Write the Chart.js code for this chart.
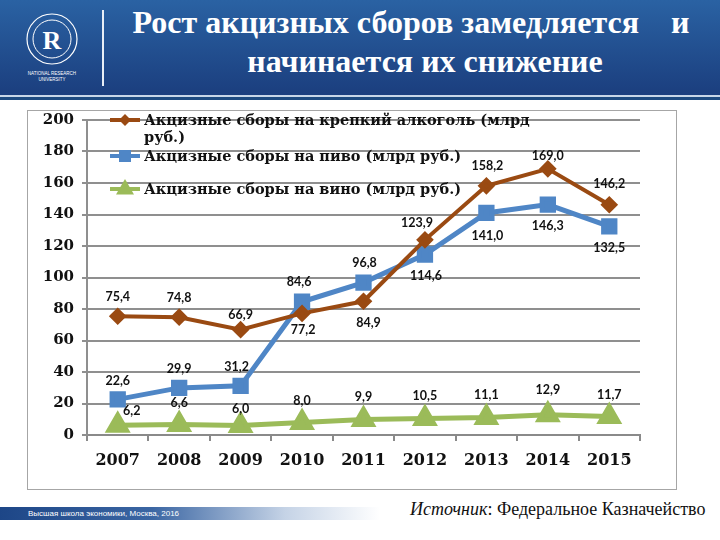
<!DOCTYPE html>
<html lang="ru">
<head>
  <meta charset="UTF-8" />
  <title>Рост акцизных сборов</title>
  <script src="https://cdn.jsdelivr.net/npm/chart.js"></script>
  <style>
    body {
      margin: 0;
      width: 720px;
      height: 540px;
      position: relative;
      overflow: hidden;
      background: #fff;
      font-family: 'Liberation Serif', serif;
    }
    .header {
      position: absolute;
      left: 0; top: 0;
      width: 720px; height: 95px;
      background: linear-gradient(#2a62a3, #1b3e7e);
    }
    .header .rule1 {
      position: absolute; left: 0; top: 95px; width: 720px; height: 2px; background: #c7d6e8;
    }
    .header .rule2 {
      position: absolute; left: 0; top: 97px; width: 720px; height: 3px; background: #1d4a80;
    }
    .divider {
      position: absolute; left: 102px; top: 10px; width: 2px; height: 76px; background: #e8eef6;
    }
    .title {
      position: absolute;
      width: 600px;
      text-align: center;
      color: #fff;
      font-weight: bold;
      font-size: 32px;
      line-height: 38px;
      white-space: pre;
    }
    .logo { position: absolute; left: 20px; top: 12px; }
    .box {
      position: absolute;
      left: 27px; top: 110px;
      width: 648px; height: 378px;
      border: 1px solid #a6a6a6;
      background: #fff;
    }
    .footbar {
      position: absolute;
      left: 0; top: 507px;
      width: 380px; height: 13px;
      background: linear-gradient(to right, #1d4687 0%, #3b66a3 40%, #c5d3e6 75%, rgba(255,255,255,0) 100%);
    }
    .foottext {
      position: absolute;
      left: 28px; top: 508px;
      color: #fff;
      font-family: 'Liberation Sans', sans-serif;
      font-size: 8px;
      line-height: 11px;
    }
    .source {
      position: absolute;
      left: 410px; top: 499px;
      font-size: 18px;
      color: #111;
    }
  </style>
</head>
<body>
  <div class="header">
    <div class="rule1"></div>
    <div class="rule2"></div>
  </div>
  <svg class="logo" width="64" height="72" viewBox="0 0 64 72">
    <circle cx="32" cy="27" r="25" fill="none" stroke="#fff" stroke-width="1.2"/>
    <circle cx="32" cy="27" r="19" fill="none" stroke="#fff" stroke-width="1"/>
    <text x="32" y="37" fill="#fff" font-family="Liberation Serif" font-size="26" font-weight="bold" text-anchor="middle">R</text>
    <text x="32" y="63" fill="#fff" font-family="Liberation Sans" font-size="4.5" text-anchor="middle">NATIONAL RESEARCH</text>
    <text x="32" y="69" fill="#fff" font-family="Liberation Sans" font-size="4.5" text-anchor="middle">UNIVERSITY</text>
  </svg>
  <div class="divider"></div>
  <div class="title" style="left:111px; top:3px;">Рост акцизных сборов замедляется    и</div>
  <div class="title" style="left:125px; top:42px;">начинается их снижение</div>

  <div class="box"><canvas id="myChart" width="648" height="378"></canvas></div>

  <div class="footbar"></div>
  <div class="foottext">Высшая школа экономики, Москва, 2016</div>
  <div class="source"><i>Источник</i>: Федеральное Казначейство</div>

  <script>
    // data
    const years = ["2007", "2008", "2009", "2010", "2011", "2012", "2013", "2014", "2015"];
    const alcohol = [75.4, 74.8, 66.9, 77.2, 84.9, 123.9, 158.2, 169.0, 146.2];
    const beer = [22.6, 29.9, 31.2, 84.6, 96.8, 114.6, 141.0, 146.3, 132.5];
    const wine = [6.2, 6.6, 6.0, 8.0, 9.9, 10.5, 11.1, 12.9, 11.7];
    const seriesNames = [
      ["Акцизные сборы на крепкий алкоголь (млрд", "руб.)"],
      ["Акцизные сборы на пиво (млрд руб.)"],
      ["Акцизные сборы на вино (млрд руб.)"]
    ];

    const fmt = v => v.toFixed(1).replace(".", ",");

    // value labels, offsets per point (dx, dy) from the marker
    const labelPlugin = {
      id: "valueLabels",
      afterDatasetsDraw(chart) {
        const c = chart.ctx;
        c.save();
        c.font = "bold 12.5px Lato, 'Open Sans', sans-serif";
        c.fillStyle = "#111";
        c.textAlign = "center";
        c.textBaseline = "middle";
        chart.data.datasets.forEach((ds, i) => {
          chart.getDatasetMeta(i).data.forEach((pt, j) => {
            const off = ds.labelOffsets[j];
            c.fillText(fmt(ds.data[j]), pt.x + off[0], pt.y + off[1]);
          });
        });
        c.restore();
      }
    };

    // legend drawn inside the plot, text wraps like the original;
    // rows follow the y scale (first row sits on the top gridline)
    const legendPlugin = {
      id: "innerLegend",
      afterDatasetsDraw(chart) {
        const c = chart.ctx;
        const top = chart.chartArea.top;
        const rows = [top, top + 36, top + 69];
        c.save();
        chart.data.datasets.forEach((ds, i) => {
          const y = rows[i];
          c.strokeStyle = ds.borderColor;
          c.lineWidth = 4;
          c.beginPath();
          c.moveTo(82, y);
          c.lineTo(112, y);
          c.stroke();
          c.fillStyle = ds.borderColor;
          const r = ds.pointRadius;
          c.beginPath();
          if (ds.pointStyle === "rectRot") {
            c.moveTo(97, y - r); c.lineTo(97 + r, y); c.lineTo(97, y + r); c.lineTo(97 - r, y);
          } else if (ds.pointStyle === "rect") {
            c.rect(97 - r * 0.75, y - r * 0.75, r * 1.5, r * 1.5);
          } else {
            c.moveTo(97, y - r); c.lineTo(97 + r * 0.9, y + r * 0.55); c.lineTo(97 - r * 0.9, y + r * 0.55);
          }
          c.closePath();
          c.fill();
          c.fillStyle = "#111";
          c.font = "bold 14.5px 'DejaVu Serif', serif";
          c.textBaseline = "middle";
          seriesNames[i].forEach((line, k) => c.fillText(line, 116, y + 1 + k * 17));
        });
        c.restore();
      }
    };

    const ctx = document.getElementById("myChart").getContext("2d");
    const chart = new Chart(ctx, {
      type: "line",
      data: {
        labels: years,
        datasets: [
          {
            label: seriesNames[0].join(" "),
            data: alcohol,
            borderColor: "#9a4a12",
            backgroundColor: "#9a4a12",
            borderWidth: 4,
            pointStyle: "rectRot",
            pointRadius: 6,
            labelOffsets: [[0, -19], [0, -19], [0, -15], [1, 17], [5, 22], [-8, -17], [1, -20], [0, -13], [0, -21]]
          },
          {
            label: seriesNames[1].join(" "),
            data: beer,
            borderColor: "#4f86c6",
            backgroundColor: "#4f86c6",
            borderWidth: 5,
            pointStyle: "rect",
            pointRadius: 8,
            labelOffsets: [[0, -18], [0, -19], [-4, -19], [-3, -20], [1, -20], [1, 21], [1, 23], [0, 21], [0, 22]]
          },
          {
            label: seriesNames[2].join(" "),
            data: wine,
            borderColor: "#9bbb59",
            backgroundColor: "#9bbb59",
            borderWidth: 5,
            pointStyle: "triangle",
            pointRadius: 10,
            labelOffsets: [[14, -14], [0, -22], [0, -17], [0, -21], [0, -22], [0, -22], [0, -23], [0, -25], [0, -22]]
          }
        ]
      },
      options: {
        responsive: false,
        animation: false,
        layout: { autoPadding: false, padding: { top: 9, right: 36, left: 0, bottom: 0 } },
        plugins: {
          legend: { display: false },
          tooltip: { enabled: false }
        },
        scales: {
          x: {
            offset: true,
            grid: { offset: true, drawOnChartArea: false, drawTicks: true, tickLength: 6, color: "#8a8a8a", lineWidth: 2 },
            border: { color: "#8a8a8a", width: 2 },
            ticks: { color: "#111", padding: 10, font: { family: "'DejaVu Serif', serif", size: 16, weight: "bold" } },
            afterFit: s => { s.height = 54; s.paddingLeft = 0; s.paddingRight = 0; }
          },
          y: {
            min: 0,
            max: 200,
            ticks: { stepSize: 20, color: "#111", padding: 8, font: { family: "'DejaVu Serif', serif", size: 15, weight: "bold" } },
            grid: { color: "#8f8f8f", lineWidth: 2, tickLength: 5 },
            border: { color: "#8f8f8f", width: 2 },
            afterFit: s => { s.width = 59; s.paddingTop = 0; s.paddingBottom = 0; }
          }
        }
      },
      plugins: [labelPlugin, legendPlugin]
    });
  </script>
</body>
</html>
